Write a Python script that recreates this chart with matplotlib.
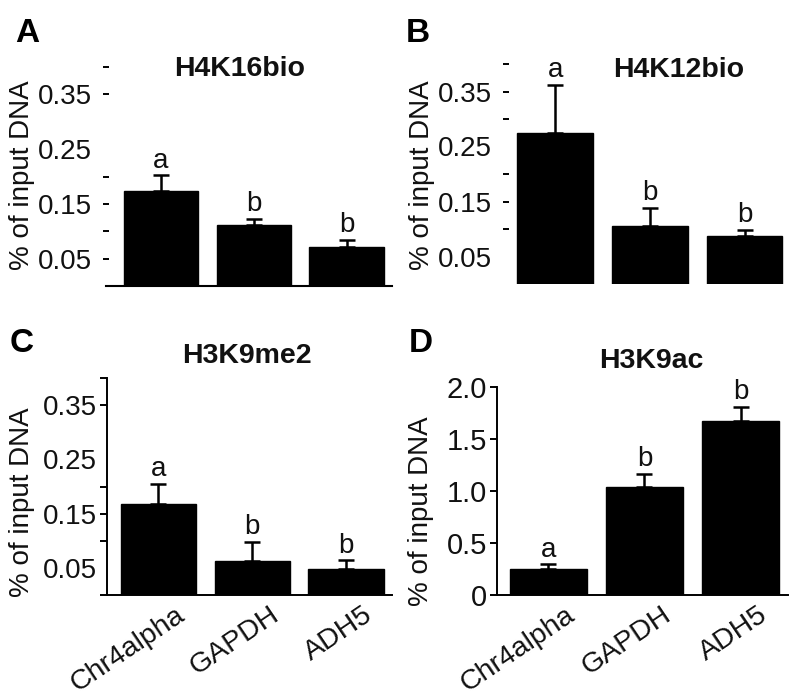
import matplotlib
matplotlib.use("Agg")
import matplotlib.pyplot as plt
import matplotlib.transforms as mtransforms

plt.rcParams['font.family'] = ['Liberation Sans', 'DejaVu Sans']

# ---------------- data ----------------
categories = ["Chr4alpha", "GAPDH", "ADH5"]
panel_letters = ["A", "B", "C", "D"]
titles = ["H4K16bio", "H4K12bio", "H3K9me2", "H3K9ac"]

a_vals = [0.173, 0.111, 0.071]
a_errs = [0.029, 0.012, 0.013]
b_vals = [0.275, 0.105, 0.088]
b_errs = [0.087, 0.033, 0.011]
c_vals = [0.167, 0.062, 0.048]
c_errs = [0.038, 0.036, 0.016]
d_vals = [0.253, 1.036, 1.676]
d_errs = [0.042, 0.127, 0.134]

a_sig = ["a", "b", "b"]
b_sig = ["a", "b", "b"]
c_sig = ["a", "b", "b"]
d_sig = ["a", "b", "b"]

small_labels = ["0.05", "0.15", "0.25", "0.35"]
small_label_pos = [0.05, 0.15, 0.25, 0.35]
d_tick_labels = ["0", "0.5", "1.0", "1.5", "2.0"]
d_tick_pos = [0.0, 0.5, 1.0, 1.5, 2.0]
ylabel = "% of input DNA"

# ---------------- figure ----------------
W, H = 800, 698
fig = plt.figure(figsize=(W / 100, H / 100), dpi=100)


def px_axes(left, right, top, bottom):
    return fig.add_axes([left / W, 1 - bottom / H, (right - left) / W, (bottom - top) / H])


TXT = "#111111"


def draw_bars(ax, vals, errs, sig, sig_off):
    x = list(range(len(vals)))
    ax.bar(x, vals, width=0.8, color="black", edgecolor="black", zorder=2)
    ax.errorbar(x, vals, yerr=[[0] * len(errs), errs], fmt="none", ecolor="black",
                elinewidth=1.8, capsize=6, capthick=1.8, zorder=3)
    for xi, v, e, s in zip(x, vals, errs, sig):
        ax.text(xi, v + e + sig_off, s, ha="center", va="bottom", fontsize=20, color=TXT)


def small_axis(ax, tick_pos, show_left):
    ax.yaxis.remove_overlapping_locs = False
    ax.set_ylim(0, 0.40)
    ax.set_yticks(small_label_pos)
    ax.set_yticklabels(small_labels, fontsize=20, color=TXT)
    ax.set_yticks(tick_pos, minor=True)
    ax.tick_params(axis="y", which="major", length=0, pad=10)
    ax.tick_params(axis="y", which="minor", length=5, width=1.4,
                   direction="out" if show_left else "inout")
    ax.spines["top"].set_visible(False)
    ax.spines["right"].set_visible(False)


# Panel A
axA = px_axes(106, 392, 67, 286)
draw_bars(axA, a_vals, a_errs, a_sig, 0.003)
axA.set_xlim(-0.59, 2.49)
small_axis(axA, [0.05, 0.10, 0.15, 0.20, 0.35, 0.40], False)
axA.spines["left"].set_visible(False)
axA.spines["bottom"].set_linewidth(1.5)
axA.set_xticks([])

# Panel B
axB = px_axes(506, 790, 64, 284)
draw_bars(axB, b_vals, b_errs, b_sig, 0.003)
axB.set_xlim(-0.52, 2.48)
small_axis(axB, [0.10, 0.15, 0.20, 0.30, 0.35, 0.40], False)
axB.spines["left"].set_visible(False)
axB.spines["bottom"].set_visible(False)
axB.set_xticks([])

# Panel C
axC = px_axes(107, 392, 378, 595)
draw_bars(axC, c_vals, c_errs, c_sig, 0.003)
axC.set_xlim(-0.545, 2.49)
small_axis(axC, [0.0, 0.10, 0.15, 0.20, 0.35, 0.40], True)
axC.tick_params(axis="y", which="major", pad=7)
axC.spines["left"].set_linewidth(1.4)
axC.spines["bottom"].set_linewidth(1.4)

# Panel D
axD = px_axes(497, 788, 387, 595)
draw_bars(axD, d_vals, d_errs, d_sig, 0.015)
axD.set_xlim(-0.53, 2.49)
axD.set_ylim(0, 2.0)
axD.set_yticks(d_tick_pos)
axD.set_yticklabels(d_tick_labels, fontsize=21, color=TXT)
axD.tick_params(axis="y", length=5, width=1.4, pad=2)
axD.spines["top"].set_visible(False)
axD.spines["right"].set_visible(False)
axD.spines["left"].set_linewidth(1.4)
axD.spines["bottom"].set_linewidth(1.4)

# x tick labels for C and D
offset = mtransforms.ScaledTranslation(17 / 100, 0, fig.dpi_scale_trans)
for ax in (axC, axD):
    ax.set_xticks(range(len(categories)))
    ax.set_xticklabels(categories, rotation=34, ha="right", va="top",
                       rotation_mode="anchor", fontsize=20.5, color=TXT)
    ax.tick_params(axis="x", length=0, pad=5)
    for lab in ax.get_xticklabels():
        lab.set_transform(lab.get_transform() + offset)

# titles
title_pos = [(240, 69), (679, 70), (247, 356), (651, 361)]
for t, (tx, ty) in zip(titles, title_pos):
    fig.text(tx / W, 1 - ty / H, t, ha="center", va="center", fontsize=20.5,
             fontweight="bold", color=TXT)

# panel letters
letter_pos = [(27, 34), (418, 34), (22, 343), (421, 344)]
for l, (lx, ly) in zip(panel_letters, letter_pos):
    fig.text(lx / W, 1 - ly / H, l, ha="center", va="center", fontsize=24,
             fontweight="heavy", color="black")

# y labels
ylab_pos = [(22, 175), (422, 175), (22, 502), (421, 511)]
for (yx, yy) in ylab_pos:
    fig.text(yx / W, 1 - yy / H, ylabel, ha="center", va="center", rotation=90,
             fontsize=20, color=TXT)

fig.savefig("out.png", dpi=100)
